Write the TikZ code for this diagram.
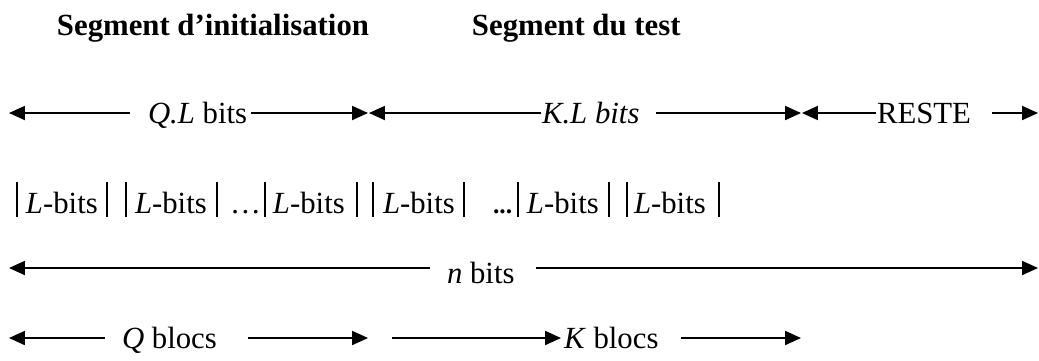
\documentclass[tikz,border=0pt]{standalone}
\usepackage{fontspec}
\setmainfont{Liberation Serif}
\usetikzlibrary{arrows.meta}
\begin{document}
\begin{tikzpicture}[x=0.39pt,y=-0.39pt,
  lbl/.style={anchor=base west,inner sep=0pt,outer sep=0pt,font=\fontsize{12}{14}\selectfont},
  ttl/.style={lbl,font=\fontsize{12}{14}\selectfont\bfseries},
  arr/.style={line width=0.55pt,-{Triangle[length=6.2pt,width=5.5pt]}},
  sep/.style={line width=0.45pt}]
\useasboundingbox (0,0) rectangle (1039,360);

% titles
\node[ttl] (tinit) at (57,35) {Segment d’initialisation};
\node[ttl] (ttest) at (472,35) {Segment du test};

% row 1
\node[lbl] (ql) at (148,123) {\textit{Q.L} bits};
\node[lbl] (kl) at (542,123) {\textit{K.L bits}};
\node[lbl] (reste) at (877,123) {RESTE};
\coordinate (a1s) at (130,113); \coordinate (a1e) at (9,113);
\coordinate (a2s) at (251,113); \coordinate (a2e) at (368,113);
\coordinate (a3s) at (541,113); \coordinate (a3e) at (369,113);
\coordinate (a4s) at (656,113); \coordinate (a4e) at (801,113);
\coordinate (a5s) at (876,113); \coordinate (a5e) at (802,113);
\coordinate (a6s) at (992,113); \coordinate (a6e) at (1038,113);
\draw[arr] (a1s) -- (a1e);
\draw[arr] (a2s) -- (a2e);
\draw[arr] (a3s) -- (a3e);
\draw[arr] (a4s) -- (a4e);
\draw[arr] (a5s) -- (a5e);
\draw[arr] (a6s) -- (a6e);

% row 2
\node[lbl] (lb1) at (26,213) {\textit{L}-bits};
\node[lbl] (lb2) at (135,213) {\textit{L}-bits};
\node[lbl] (dots1) at (230,213) {…};
\node[lbl] (lb3) at (273,213) {\textit{L}-bits};
\node[lbl] (lb4) at (383,213) {\textit{L}-bits};
\node[lbl,font=\fontsize{10}{12}\selectfont\bfseries] (dots2) at (493,213) {...};
\node[lbl] (lb5) at (527,213) {\textit{L}-bits};
\node[lbl] (lb6) at (634,213) {\textit{L}-bits};
\foreach \bx [count=\i] in {17,107,126,217,265,357,373,464,518,609,627,719}{
  \coordinate (bt\i) at (\bx,182); \coordinate (bb\i) at (\bx,217);
  \draw[sep] (bt\i) -- (bb\i);
}

% row 3
\node[lbl] (nb) at (447,283) {\textit{n} bits};
\coordinate (n1s) at (430,268); \coordinate (n1e) at (9,268);
\coordinate (n2s) at (536,268); \coordinate (n2e) at (1038,268);
\draw[arr] (n1s) -- (n1e);
\draw[arr] (n2s) -- (n2e);

% row 4
\node[lbl] (qb) at (122,348) {\textit{Q} blocs};
\node[lbl] (kb) at (564,348) {\textit{K} blocs};
\coordinate (q1s) at (105,338); \coordinate (q1e) at (9,338);
\coordinate (q2s) at (248,338); \coordinate (q2e) at (368,338);
\coordinate (k1s) at (392,338); \coordinate (k1e) at (561,338);
\coordinate (k2s) at (681,338); \coordinate (k2e) at (801,338);
\draw[arr] (q1s) -- (q1e);
\draw[arr] (q2s) -- (q2e);
\draw[arr] (k1s) -- (k1e);
\draw[arr] (k2s) -- (k2e);
\end{tikzpicture}
\end{document}
